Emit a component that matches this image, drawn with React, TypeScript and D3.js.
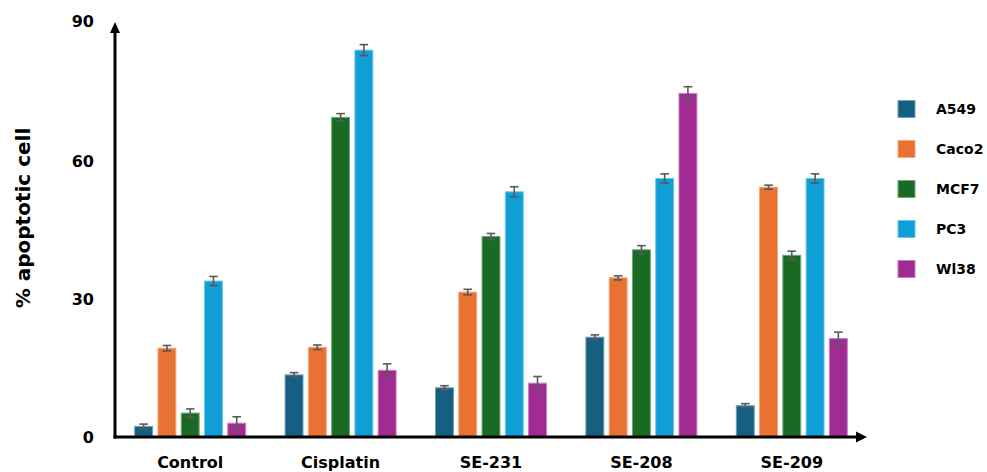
import React from "react";
import * as d3 from "d3";

const categories = ["Control", "Cisplatin", "SE-231", "SE-208", "SE-209"];
const seriesNames = ["A549", "Caco2", "MCF7", "PC3", "Wl38"];
const seriesColors = ["#156082", "#E97132", "#196B24", "#0F9ED5", "#A02B93"];

// values[series][category]
const a549 = [2.3, 13.5, 10.7, 21.7, 6.8];
const caco2 = [19.3, 19.5, 31.5, 34.6, 54.3];
const mcf7 = [5.2, 69.5, 43.6, 40.7, 39.5];
const pc3 = [33.9, 84.1, 53.3, 56.2, 56.2];
const wl38 = [3.0, 14.5, 11.7, 74.7, 21.4];
const seriesValues = [a549, caco2, mcf7, pc3, wl38];

const a549Err = [0.5, 0.5, 0.45, 0.5, 0.45];
const caco2Err = [0.6, 0.5, 0.6, 0.45, 0.45];
const mcf7Err = [0.9, 0.8, 0.65, 0.9, 0.9];
const pc3Err = [1.0, 1.2, 1.1, 1.0, 1.0];
const wl38Err = [1.4, 1.4, 1.45, 1.45, 1.4];
const seriesErrors = [a549Err, caco2Err, mcf7Err, pc3Err, wl38Err];

const yTicks = [0, 30, 60, 90];

const W = 987;
const H = 472;
const FONT = "'DejaVu Sans', sans-serif";

export default function App() {
  const x0Axis = 115;
  const xEnd = 867;
  const x0 = d3.scaleBand<string>().domain(categories).range([x0Axis, xEnd]).padding(0);
  const groupW = 111;
  const x1 = d3
    .scaleBand<string>()
    .domain(seriesNames)
    .range([-groupW / 2, groupW / 2])
    .paddingInner(0.23)
    .paddingOuter(0);
  const y = d3.scaleLinear().domain([0, 90]).range([437, 23]);
  const baseY = y(0);

  return (
    <div style={{ position: "fixed", left: 0, top: 0, width: W, height: H, background: "#fff" }}>
      <svg width={W} height={H} style={{ display: "block" }}>
        <rect width={W} height={H} fill="#fff" />
        {/* bars */}
        {seriesNames.map((s, si) => (
          <g key={s}>
            {categories.map((c, ci) => {
              const v = seriesValues[si][ci];
              const e = seriesErrors[si][ci];
              const cx = (x0(c) as number) + x0.bandwidth() / 2;
              const bx = cx + (x1(s) as number);
              const bw = x1.bandwidth();
              const mid = bx + bw / 2;
              const col = seriesColors[si];
              const stroke = d3.interpolateRgb(col, "#ffffff")(0.4);
              return (
                <g key={c}>
                  <rect
                    x={bx}
                    y={y(v)}
                    width={bw}
                    height={baseY - y(v)}
                    fill={col}
                    stroke={stroke}
                    strokeWidth={1}
                  />
                  <g stroke="#595959" strokeWidth={1.6}>
                    <line x1={mid} x2={mid} y1={y(v + e)} y2={y(v - e)} />
                    <line x1={mid - 4.3} x2={mid + 4.3} y1={y(v + e)} y2={y(v + e)} />
                    <line x1={mid - 4.3} x2={mid + 4.3} y1={y(v - e)} y2={y(v - e)} />
                  </g>
                </g>
              );
            })}
          </g>
        ))}
        {/* axes */}
        <line x1={x0Axis} x2={x0Axis} y1={baseY + 1.5} y2={32} stroke="#000" strokeWidth={3} />
        <path d={`M${x0Axis - 5},${33} L${x0Axis},${22} L${x0Axis + 5},${33} Z`} fill="#000" />
        <line x1={x0Axis - 1.5} x2={xEnd - 10} y1={baseY} y2={baseY} stroke="#000" strokeWidth={3} />
        <path d={`M${xEnd - 11},${baseY - 5.5} L${xEnd},${baseY} L${xEnd - 11},${baseY + 5.5} Z`} fill="#000" />
        {/* y ticks */}
        {yTicks.map((t) => (
          <text
            key={t}
            x={94}
            y={y(t) - (t === 90 ? 2 : 0)}
            textAnchor="end"
            dominantBaseline="central"
            fontFamily={FONT}
            fontWeight="bold"
            fontSize={16}
            fill="#000"
          >
            {t}
          </text>
        ))}
        {/* x labels */}
        {categories.map((c) => (
          <text
            key={c}
            x={(x0(c) as number) + x0.bandwidth() / 2}
            y={468}
            textAnchor="middle"
            fontFamily={FONT}
            fontWeight="bold"
            fontSize={16}
            fill="#000"
          >
            {c}
          </text>
        ))}
        {/* y title */}
        <text
          transform={`translate(23,218) rotate(-90)`}
          textAnchor="middle"
          dominantBaseline="central"
          fontFamily={FONT}
          fontWeight="bold"
          fontSize={20}
          fill="#000"
        >
          % apoptotic cell
        </text>
        {/* legend */}
        {seriesNames.map((s, i) => {
          const cy = 109 + i * 40;
          return (
            <g key={s}>
              <rect
                x={898}
                y={cy - 8.5}
                width={17}
                height={17}
                fill={seriesColors[i]}
                stroke={d3.interpolateRgb(seriesColors[i], "#ffffff")(0.4)}
                strokeWidth={1}
              />
              <text
                x={936}
                y={cy}
                dominantBaseline="central"
                fontFamily={FONT}
                fontWeight="bold"
                fontSize={14}
                fill="#000"
              >
                {s}
              </text>
            </g>
          );
        })}
      </svg>
    </div>
  );
}
